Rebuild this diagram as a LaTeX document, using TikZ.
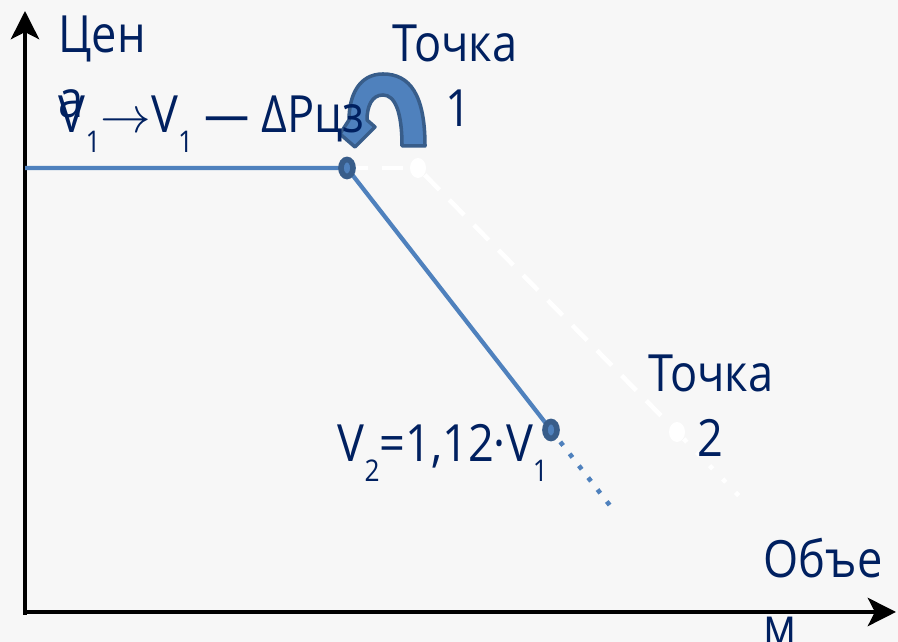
\documentclass[tikz,border=0pt]{standalone}
\usepackage{fontspec}
\setmainfont{Open Sans}[FakeStretch=0.88]
\usetikzlibrary{arrows.meta,shapes.geometric}
\definecolor{txtblue}{HTML}{002060}
\definecolor{lineblue}{HTML}{4F81BD}
\definecolor{markblue}{HTML}{385D8A}
\definecolor{bgray}{HTML}{F7F7F7}
\newcommand{\idx}[1]{\raisebox{-5.5pt}{\fontsize{8.5}{9}\selectfont#1}}

\begin{document}
\begin{tikzpicture}[
  lbl/.style={text=txtblue, font=\fontsize{14.6}{18.5}\selectfont, inner sep=0pt, anchor=base west},
  axis/.style={line width=1.3pt, -{Stealth[length=8pt,width=8pt,inset=2pt]}},
  curve/.style={lineblue, line width=1.2pt},
  oldcurve/.style={white, line width=1.3pt, dash pattern=on 6pt off 4pt},
  bluemark/.style={ellipse, fill=lineblue, draw=markblue, line width=1.6pt, minimum width=0.12cm, minimum height=0.17cm, inner sep=0pt},
  whitemark/.style={ellipse, fill=white, minimum width=0.16cm, minimum height=0.2cm, inner sep=0pt}
]
\fill[bgray] (0,0) rectangle (8.98,6.42);
\useasboundingbox (0,0) rectangle (8.98,6.42);

% axes
\coordinate (origin) at (0.25,0.27);
\coordinate (ytip) at (0.25,6.31);
\coordinate (xbeg) at (0.25,0.30);
\coordinate (xtip) at (8.96,0.30);
\draw[axis] (origin) -- (ytip);
\draw[axis] (xbeg) -- (xtip);

% old curve (white)
\coordinate (lstart) at (0.25,4.74);
\node[whitemark] (w1) at (4.18,4.74) {};
\node[whitemark] (w2) at (6.77,2.10) {};
\coordinate (wend) at (7.40,1.45);
\draw[oldcurve] (3.47,4.74) -- (w1);
\draw[oldcurve] (w1) -- (w2);
\draw[white, line width=1.3pt, dash pattern=on 1.3pt off 4pt] (w2) -- (wend);

% new curve (blue)
\coordinate (dend) at (6.15,1.30);
\draw[curve] (lstart) -- (3.47,4.74) -- (5.51,2.12);
\draw[lineblue, line width=1.3pt, dash pattern=on 1.3pt off 3pt] (5.51,2.12) -- (dend);
\node[bluemark] (kink) at (3.47,4.74) {};
\node[bluemark] (p2) at (5.51,2.12) {};

% curved arrow
\filldraw[fill=lineblue, draw=markblue, line width=1pt, line join=round]
  (4.02,4.96) -- (4.25,4.96)
  .. controls (4.25,5.47) and (4.10,5.68) .. (3.83,5.68)
  .. controls (3.58,5.68) and (3.49,5.45) .. (3.49,5.22)
  -- (3.40,5.08) -- (3.55,4.95) -- (3.75,5.15) -- (3.67,5.22)
  .. controls (3.67,5.36) and (3.72,5.47) .. (3.83,5.47)
  .. controls (3.95,5.47) and (4.02,5.30) .. (4.02,4.96) -- cycle;

% labels
\node[lbl, align=left] (price) at (0.58,5.24) {Цен\\а};
\node[lbl] (shift) at (0.58,5.09) {V\idx{1}$\rightarrow$V\idx{1} — ΔPцз};
\node[lbl] (t1) at (3.92,5.80) {Точка};
\node[lbl] (n1) at (4.45,5.15) {1};
\node[lbl] (t2) at (6.48,2.50) {Точка};
\node[lbl] (n2) at (6.97,1.85) {2};
\node[lbl] (v2) at (3.37,1.80) {V\idx{2}=1,12·V\idx{1}};
\node[lbl, align=left, font=\fontsize{14.6}{19.3}\selectfont] (vol) at (7.63,-0.03) {Объе\\м};
\end{tikzpicture}
\end{document}
